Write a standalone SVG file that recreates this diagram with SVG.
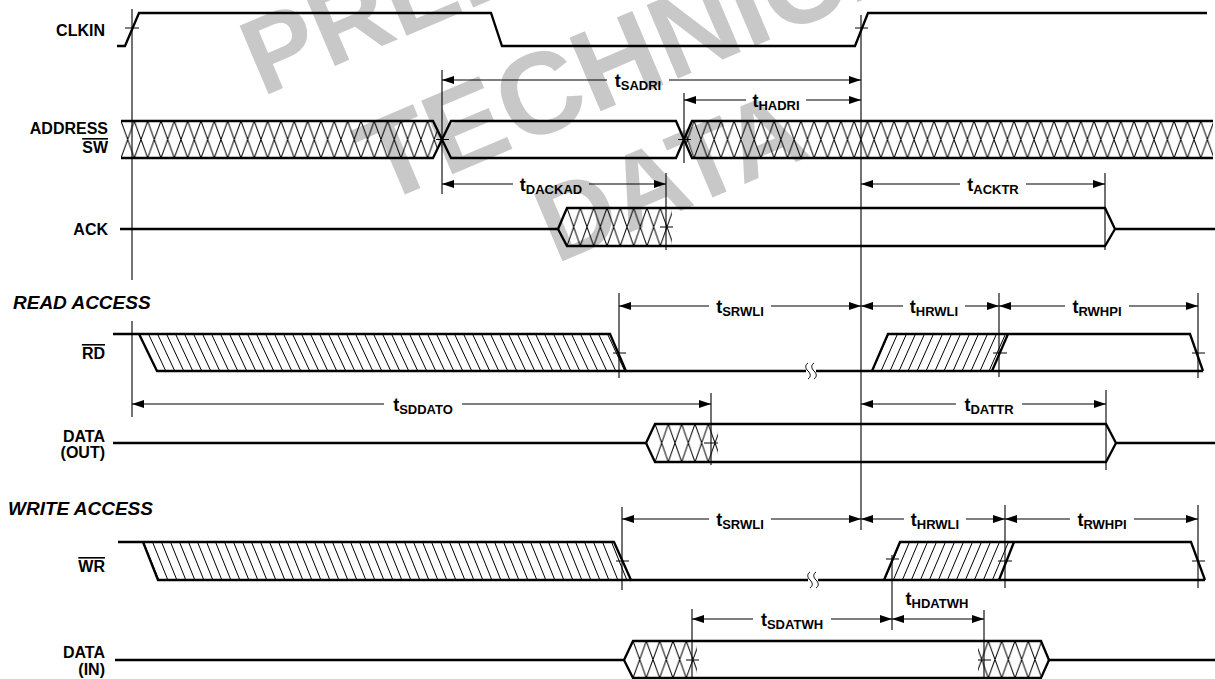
<svg xmlns="http://www.w3.org/2000/svg" width="1215" height="679" viewBox="0 0 1215 679">
<defs>
<style>
.sig{fill:none;stroke:#000;stroke-width:2.3;stroke-linejoin:miter}
.gd{fill:none;stroke:#000;stroke-width:1.1}
.tk{fill:none;stroke:#000;stroke-width:1}
.ar{fill:none;stroke:#000;stroke-width:1.1}
.al{marker-start:url(#ah)}
.arr{marker-end:url(#ah)}
.lbl{font-family:"Liberation Sans",Arial,sans-serif;font-weight:bold;font-size:16px;fill:#000}
.sec{font-family:"Liberation Sans",Arial,sans-serif;font-weight:bold;font-style:italic;font-size:19px;fill:#000}
.tl{font-family:"Liberation Sans",Arial,sans-serif;font-weight:bold;fill:#000;text-anchor:middle}
.tt{font-size:18px}
.ts{font-size:13px}
.wm{font-family:"Liberation Sans",Arial,sans-serif;font-weight:bold;fill:#c8c8c8}
.ov{text-decoration:overline}
</style>
<marker id="ah" viewBox="0 0 12 8" refX="12" refY="4" markerWidth="12" markerHeight="8" markerUnits="userSpaceOnUse" orient="auto-start-reverse"><path d="M0,0 L12,4 L0,8 z" fill="#000"/></marker>
<pattern id="xA" patternUnits="userSpaceOnUse" x="121" y="121" width="13.33" height="37"><path d="M0,0 L13.33,37 M13.33,0 L0,37" stroke="#000" stroke-width="1" fill="none"/></pattern>
<pattern id="xK" patternUnits="userSpaceOnUse" x="567" y="208" width="13.33" height="38"><path d="M0,0 L13.33,38 M13.33,0 L0,38" stroke="#000" stroke-width="1" fill="none"/></pattern>
<pattern id="xO" patternUnits="userSpaceOnUse" x="655" y="424" width="13.33" height="38"><path d="M0,0 L13.33,38 M13.33,0 L0,38" stroke="#000" stroke-width="1" fill="none"/></pattern>
<pattern id="xI" patternUnits="userSpaceOnUse" x="633" y="641" width="13.33" height="37"><path d="M0,0 L13.33,37 M13.33,0 L0,37" stroke="#000" stroke-width="1" fill="none"/></pattern>
<pattern id="xI2" patternUnits="userSpaceOnUse" x="975" y="641" width="13.33" height="37"><path d="M0,0 L13.33,37 M13.33,0 L0,37" stroke="#000" stroke-width="1" fill="none"/></pattern>
<pattern id="hb" patternUnits="userSpaceOnUse" width="9" height="9" patternTransform="translate(139,334) skewX(25)"><path d="M0.5,0 V9" stroke="#000" stroke-width="1"/></pattern>
<pattern id="hf" patternUnits="userSpaceOnUse" width="9" height="9" patternTransform="translate(888,334) skewX(-24)"><path d="M0.5,0 V9" stroke="#000" stroke-width="1"/></pattern>
<pattern id="hbw" patternUnits="userSpaceOnUse" width="9" height="9" patternTransform="translate(143,542) skewX(22)"><path d="M0.5,0 V9" stroke="#000" stroke-width="1"/></pattern>
<pattern id="hfw" patternUnits="userSpaceOnUse" width="9" height="9" patternTransform="translate(900,542) skewX(-23)"><path d="M0.5,0 V9" stroke="#000" stroke-width="1"/></pattern>
</defs>
<rect width="1215" height="679" fill="#fff"/>

<g id="watermark">
<text class="wm" x="262" y="97" font-size="108" transform="rotate(-23 262 97)">PRELIMINARY</text>
<text class="wm" x="380" y="205" font-size="116" transform="rotate(-23 380 205)">TECHNICAL</text>
<text class="wm" x="556" y="264" font-size="106" transform="rotate(-23 556 264)">DATA</text>
</g>

<g id="labels">
<text class="lbl" x="105" y="36" text-anchor="end">CLKIN</text>
<text class="lbl" x="108" y="134" text-anchor="end">ADDRESS</text>
<text class="lbl ov" x="108" y="153" text-anchor="end">SW</text>
<text class="lbl" x="108" y="235" text-anchor="end">ACK</text>
<text class="sec" x="13" y="309">READ ACCESS</text>
<text class="lbl ov" x="105" y="359" text-anchor="end">RD</text>
<text class="lbl" x="105" y="442" text-anchor="end">DATA</text>
<text class="lbl" x="105" y="458" text-anchor="end">(OUT)</text>
<text class="sec" x="8" y="515">WRITE ACCESS</text>
<text class="lbl ov" x="105" y="572" text-anchor="end">WR</text>
<text class="lbl" x="105" y="658" text-anchor="end">DATA</text>
<text class="lbl" x="105" y="675" text-anchor="end">(IN)</text>
</g>

<g id="clkin">
<path class="sig" d="M117,46 H125 L139,13 H491 L502,46 H855 L868,13 H1207"/>
<path class="tk" d="M125,28 H139 M855,28 H868"/>
</g>

<g id="address">
<path d="M121,121 H433 L442,139.5 L433,158 H121 z" fill="url(#xA)"/>
<path d="M692,121 H1213 V158 H692 L684,139.5 z" fill="url(#xA)"/>
<path class="sig" d="M121,121 H433 L451,158 H676 L692,121 H1213"/>
<path class="sig" d="M121,158 H433 L451,121 H676 L692,158 H1213"/>
<path class="tk" d="M436,139.5 H449 M678,139.5 H691"/>
</g>

<g id="ack">
<path d="M567,208 H672 V246 H567 z" fill="url(#xK)"/>
<path class="sig" d="M120,229 H558 L567,208 H1105 L1115,229 H1215"/>
<path class="sig" d="M558,229 L567,246 H1105 L1115,229"/>
<path class="tk" d="M660,227 H673"/>
</g>

<g id="rd">
<path d="M139,334 H610 L626,371 H157 z" fill="url(#hb)"/>
<path d="M888,334 H1008 L992,371 H872 z" fill="url(#hf)"/>
<path class="sig" d="M113,334 H610 L626,371 H806 M816,371 H1203"/>
<path class="sig" d="M139,334 L157,371 H626"/>
<path class="sig" d="M872,371 L888,334 H1190 L1203,371"/>
<path class="sig" d="M992,371 L1008,334"/>
<path class="tk" d="M808,363 c-3,2 -3,5 0,8 s3,6 0,8 M814,363 c-3,2 -3,5 0,8 s3,6 0,8"/>
<path class="tk" d="M613,353 H626 M993,353 H1007 M1192,353 H1205"/>
</g>

<g id="data-out">
<path d="M655,424 H718 V462 H655 z" fill="url(#xO)"/>
<path class="sig" d="M113,443 H646 L655,424 H1106 L1116,443 H1215"/>
<path class="sig" d="M646,443 L655,462 H1106 L1116,443"/>
<path class="tk" d="M704,443 H718"/>
</g>

<g id="wr">
<path d="M143,542 H614 L631,580 H158 z" fill="url(#hbw)"/>
<path d="M900,542 H1014 L999,580 H884 z" fill="url(#hfw)"/>
<path class="sig" d="M118,542 H614 L631,580 H808 M818,580 H1205"/>
<path class="sig" d="M143,542 L158,580 H631"/>
<path class="sig" d="M884,580 L900,542 H1191 L1205,580"/>
<path class="sig" d="M999,580 L1014,542"/>
<path class="tk" d="M810,572 c-3,2 -3,5 0,8 s3,6 0,8 M816,572 c-3,2 -3,5 0,8 s3,6 0,8"/>
<path class="tk" d="M616,561 H629 M886,559 H899 M998,561 H1012 M1192,561 H1205"/>
</g>

<g id="data-in">
<path d="M633,641 H697 V678 H633 z" fill="url(#xI)"/>
<path d="M978,641 H1041 V678 H978 z" fill="url(#xI2)"/>
<path class="sig" d="M115,660 H624 L633,641 H1041 L1049,660 H1215"/>
<path class="sig" d="M624,660 L633,678 H1041 L1049,660"/>
<path class="tk" d="M686,660 H699 M978,660 H991"/>
</g>

<g id="connectors">
<path class="gd" d="M132,9 V280 M132,321 V417 M442,70 V194 M684,93 V163 M861,15 V530 M666,173 V250 M1105,173 V250 M619,293 V378 M999,293 V377 M1198,293 V378 M711,393 V465 M1106,390 V470 M622,507 V590 M1005,505 V588 M1198,505 V588 M892,555 V630 M692,609 V679 M984,610 V679"/>
<line class="ar al" x1="442" y1="80" x2="607" y2="80"/><line class="ar arr" x1="669" y1="80" x2="861" y2="80"/>
<text class="tl" x="638" y="87"><tspan class="tt">t</tspan><tspan class="ts" dy="3">SADRI</tspan></text>
<line class="ar al" x1="684" y1="100" x2="746" y2="100"/><line class="ar arr" x1="806" y1="100" x2="861" y2="100"/>
<text class="tl" x="776" y="107"><tspan class="tt">t</tspan><tspan class="ts" dy="3">HADRI</tspan></text>
<line class="ar al" x1="442" y1="184" x2="513" y2="184"/><line class="ar arr" x1="589" y1="184" x2="666" y2="184"/>
<text class="tl" x="551" y="191"><tspan class="tt">t</tspan><tspan class="ts" dy="3">DACKAD</tspan></text>
<line class="ar al" x1="861" y1="184" x2="960" y2="184"/><line class="ar arr" x1="1026" y1="184" x2="1105" y2="184"/>
<text class="tl" x="993" y="191"><tspan class="tt">t</tspan><tspan class="ts" dy="3">ACKTR</tspan></text>
<line class="ar al" x1="619" y1="306" x2="709" y2="306"/><line class="ar arr" x1="771" y1="306" x2="861" y2="306"/>
<text class="tl" x="740" y="313"><tspan class="tt">t</tspan><tspan class="ts" dy="3">SRWLI</tspan></text>
<line class="ar al" x1="861" y1="306" x2="903" y2="306"/><line class="ar arr" x1="965" y1="306" x2="999" y2="306"/>
<text class="tl" x="934" y="313"><tspan class="tt">t</tspan><tspan class="ts" dy="3">HRWLI</tspan></text>
<line class="ar al" x1="999" y1="306" x2="1065" y2="306"/><line class="ar arr" x1="1129" y1="306" x2="1198" y2="306"/>
<text class="tl" x="1097" y="313"><tspan class="tt">t</tspan><tspan class="ts" dy="3">RWHPI</tspan></text>
<line class="ar al" x1="132" y1="404" x2="384" y2="404"/><line class="ar arr" x1="462" y1="404" x2="711" y2="404"/>
<text class="tl" x="423" y="411"><tspan class="tt">t</tspan><tspan class="ts" dy="3">SDDATO</tspan></text>
<line class="ar al" x1="861" y1="404" x2="956" y2="404"/><line class="ar arr" x1="1022" y1="404" x2="1106" y2="404"/>
<text class="tl" x="989" y="411"><tspan class="tt">t</tspan><tspan class="ts" dy="3">DATTR</tspan></text>
<line class="ar al" x1="622" y1="519" x2="709" y2="519"/><line class="ar arr" x1="771" y1="519" x2="861" y2="519"/>
<text class="tl" x="740" y="526"><tspan class="tt">t</tspan><tspan class="ts" dy="3">SRWLI</tspan></text>
<line class="ar al" x1="861" y1="519" x2="904" y2="519"/><line class="ar arr" x1="966" y1="519" x2="1005" y2="519"/>
<text class="tl" x="935" y="526"><tspan class="tt">t</tspan><tspan class="ts" dy="3">HRWLI</tspan></text>
<line class="ar al" x1="1005" y1="519" x2="1070" y2="519"/><line class="ar arr" x1="1134" y1="519" x2="1198" y2="519"/>
<text class="tl" x="1102" y="526"><tspan class="tt">t</tspan><tspan class="ts" dy="3">RWHPI</tspan></text>
<line class="ar al" x1="692" y1="619" x2="753" y2="619"/><line class="ar arr" x1="831" y1="619" x2="892" y2="619"/>
<text class="tl" x="792" y="626"><tspan class="tt">t</tspan><tspan class="ts" dy="3">SDATWH</tspan></text>
<line class="ar al arr" x1="892" y1="619" x2="984" y2="619"/>
<text class="tl" x="937" y="605"><tspan class="tt">t</tspan><tspan class="ts" dy="3">HDATWH</tspan></text>
</g>
</svg>
